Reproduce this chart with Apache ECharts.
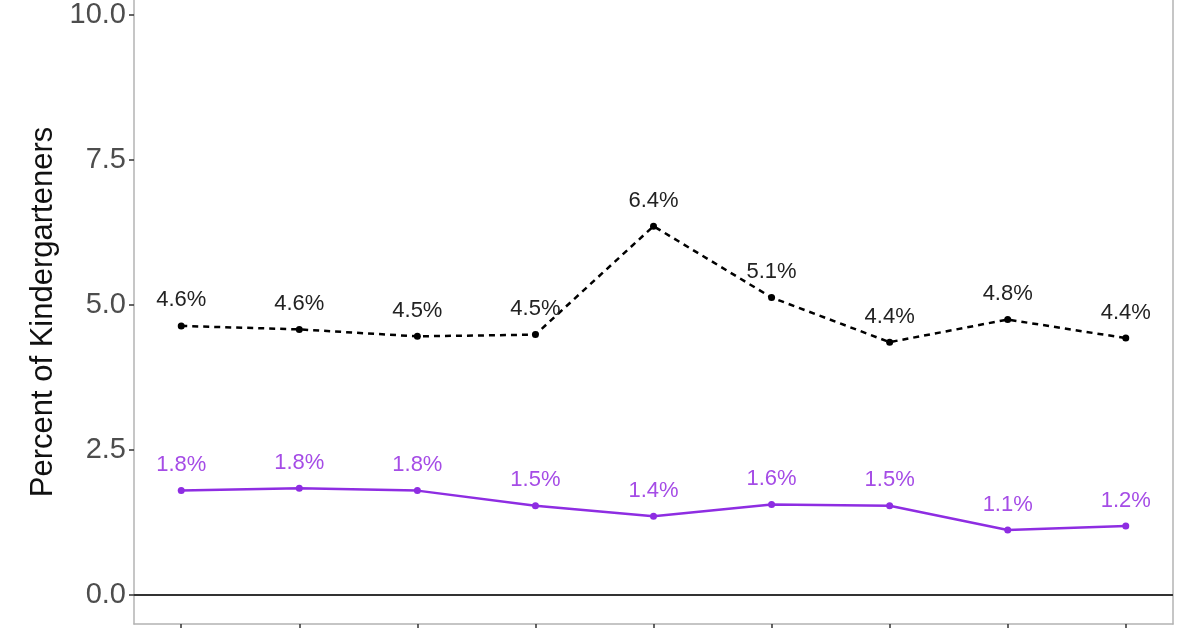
<!DOCTYPE html>
<html lang="en">
<head>
  <meta charset="UTF-8">
  <title>Percent of Kindergarteners</title>
  <script src="https://cdn.jsdelivr.net/npm/echarts@6/dist/echarts.min.js"></script>
  <style>
    body { margin: 0; padding: 0; background: #fff; }
    #chart { width: 1200px; height: 628px; }
  </style>
</head>
<body>
  <div id="chart"></div>
  <script>
    // x positions (school years, labels cut off in the source)
    var xPositions = [1, 2, 3, 4, 5, 6, 7, 8, 9];
    var yTicks = [0, 2.5, 5, 7.5, 10];
    var blackSeries = [4.64, 4.58, 4.46, 4.49, 6.36, 5.13, 4.36, 4.75, 4.43];
    var purpleSeries = [1.80, 1.84, 1.80, 1.54, 1.36, 1.56, 1.54, 1.12, 1.19];

    var font = '"Liberation Sans", Arial, sans-serif';
    var purple = '#8e2de2';
    var border = { show: true, onZero: false, lineStyle: { color: '#b3b3b3', width: 1.5 } };

    function pairs(vals) {
      return vals.map(function (v, i) { return [xPositions[i], v]; });
    }

    var chart = echarts.init(document.getElementById('chart'));

    chart.setOption({
      animation: false,
      grid: { left: 134, right: 27, top: 0, bottom: 4 },
      xAxis: {
        type: 'value',
        min: 0.6, max: 9.4,
        axisLine: border,
        axisTick: { show: true, length: 6, customValues: xPositions, lineStyle: { color: '#333', width: 1.5 } },
        axisLabel: { show: false },
        splitLine: { show: false }
      },
      yAxis: [
        {
          type: 'value',
          min: -0.5, max: 10.26,
          name: 'Percent of Kindergarteners',
          nameLocation: 'middle',
          nameGap: 72,
          nameTextStyle: { fontFamily: font, fontSize: 31, color: '#111' },
          axisLine: border,
          axisTick: { show: true, length: 5, customValues: yTicks, lineStyle: { color: '#333', width: 1.5 } },
          axisLabel: {
            customValues: yTicks,
            margin: 8,
            fontFamily: font, fontSize: 29, color: '#4d4d4d',
            formatter: function (v) { return v.toFixed(1); }
          },
          splitLine: { show: false }
        },
        {
          type: 'value',
          position: 'right',
          min: -0.5, max: 10.26,
          axisLine: border,
          axisTick: { show: false },
          axisLabel: { show: false },
          splitLine: { show: false }
        }
      ],
      series: [
        {
          type: 'line',
          data: pairs(blackSeries),
          symbol: 'circle',
          symbolSize: 7,
          itemStyle: { color: '#000' },
          lineStyle: { color: '#000', width: 2.5, type: [6, 5] },
          label: {
            show: true, position: 'top', distance: 11,
            fontFamily: font, fontSize: 22, color: '#222',
            formatter: function (p) { return p.value[1].toFixed(1) + '%'; }
          },
          z: 3
        },
        {
          type: 'line',
          data: pairs(purpleSeries),
          symbol: 'circle',
          symbolSize: 7,
          itemStyle: { color: purple },
          lineStyle: { color: purple, width: 2.5 },
          label: {
            show: true, position: 'top', distance: 11,
            fontFamily: font, fontSize: 22, color: '#a54ce6',
            formatter: function (p) { return p.value[1].toFixed(1) + '%'; }
          },
          markLine: {
            silent: true,
            symbol: 'none',
            label: { show: false },
            lineStyle: { color: '#333', width: 1.8, type: 'solid' },
            data: [{ yAxis: 0 }]
          },
          z: 3
        }
      ]
    });
  </script>
</body>
</html>
